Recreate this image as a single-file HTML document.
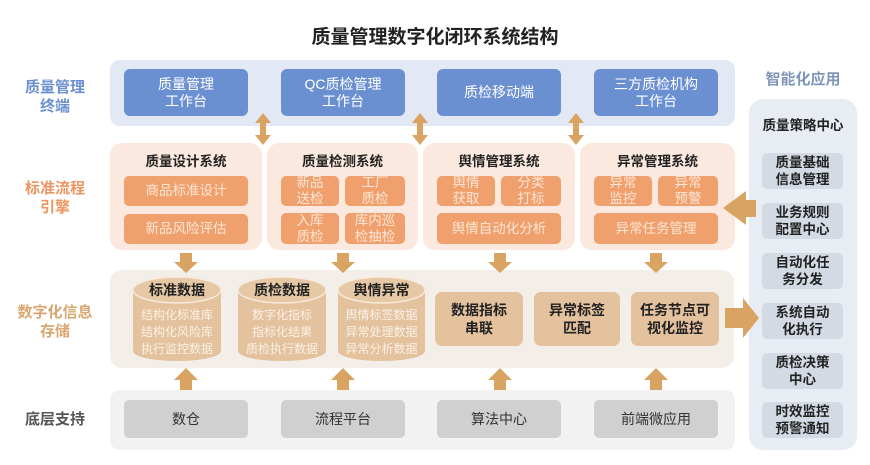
<!DOCTYPE html>
<html><head><meta charset="utf-8"><style>
*{margin:0;padding:0;box-sizing:border-box}
body{width:870px;height:465px;background:#fff;position:relative;overflow:hidden;font-family:"Liberation Sans","Noto Sans CJK SC",sans-serif}
.a{position:absolute}
.c{display:flex;align-items:center;justify-content:center;text-align:center}
.blue{background:#6b90d2;color:#fff;border-radius:6px;font-size:14px;line-height:17px}
.or{background:#f0a06c;color:#fde6d6;border-radius:5px;font-size:13.5px;line-height:16px}
.tan{background:#e3c29d;color:#222;border-radius:7px;font-size:14px;font-weight:bold;line-height:18px}
.gr{background:#d0d0d0;color:#333;border-radius:5px;font-size:14px}
.rb{background:#d4dae4;color:#222;border-radius:5px;font-size:13.5px;font-weight:bold;line-height:17px}
.lab{font-size:15px;font-weight:bold;line-height:19px}
.pt{font-size:13.5px;font-weight:bold;color:#222}
</style></head><body>
<div class="a" style="left:0;top:22px;width:870px;text-align:center;font-size:19px;font-weight:bold;color:#222">质量管理数字化闭环系统结构</div>

<div class="a c lab" style="left:5px;top:77px;width:100px;height:40px;color:#6b8fd0">质量管理<br>终端</div>
<div class="a c lab" style="left:5px;top:178px;width:100px;height:40px;color:#ec9560">标准流程<br>引擎</div>
<div class="a c lab" style="left:5px;top:302px;width:100px;height:40px;color:#d9a670">数字化信息<br>存储</div>
<div class="a c lab" style="left:5px;top:408px;width:100px;height:22px;color:#555">底层支持</div>

<div class="a" style="left:110px;top:60px;width:625px;height:66px;background:#e3e9f4;border-radius:10px"></div>
<div class="a c blue" style="left:124px;top:69px;width:124px;height:47px">质量管理<br>工作台</div>
<div class="a c blue" style="left:281px;top:69px;width:124px;height:47px">QC质检管理<br>工作台</div>
<div class="a c blue" style="left:437px;top:69px;width:124px;height:47px">质检移动端</div>
<div class="a c blue" style="left:594px;top:69px;width:124px;height:47px">三方质检机构<br>工作台</div>

<div class="a" style="left:110px;top:143px;width:152px;height:107px;background:#fbe9df;border-radius:12px"></div>
<div class="a" style="left:267px;top:143px;width:151px;height:107px;background:#fbe9df;border-radius:12px"></div>
<div class="a" style="left:423px;top:143px;width:152px;height:107px;background:#fbe9df;border-radius:12px"></div>
<div class="a" style="left:580px;top:143px;width:155px;height:107px;background:#fbe9df;border-radius:12px"></div>
<div class="a c pt" style="left:110px;top:151px;width:152px;height:18px">质量设计系统</div>
<div class="a c pt" style="left:267px;top:151px;width:151px;height:18px">质量检测系统</div>
<div class="a c pt" style="left:423px;top:151px;width:152px;height:18px">舆情管理系统</div>
<div class="a c pt" style="left:580px;top:151px;width:155px;height:18px">异常管理系统</div>
<div class="a c or" style="left:124px;top:176px;width:124px;height:30px">商品标准设计</div>
<div class="a c or" style="left:124px;top:214px;width:124px;height:30px">新品风险评估</div>
<div class="a c or" style="left:281px;top:176px;width:58px;height:30px">新品<br>送检</div>
<div class="a c or" style="left:345px;top:176px;width:60px;height:30px">工厂<br>质检</div>
<div class="a c or" style="left:281px;top:213px;width:58px;height:31px">入库<br>质检</div>
<div class="a c or" style="left:345px;top:213px;width:60px;height:31px">库内巡<br>检抽检</div>
<div class="a c or" style="left:437px;top:176px;width:58px;height:30px">舆情<br>获取</div>
<div class="a c or" style="left:501px;top:176px;width:60px;height:30px">分类<br>打标</div>
<div class="a c or" style="left:437px;top:213px;width:124px;height:31px">舆情自动化分析</div>
<div class="a c or" style="left:594px;top:176px;width:58px;height:30px">异常<br>监控</div>
<div class="a c or" style="left:658px;top:176px;width:60px;height:30px">异常<br>预警</div>
<div class="a c or" style="left:594px;top:213px;width:124px;height:31px">异常任务管理</div>

<div class="a" style="left:110px;top:270px;width:624px;height:98px;background:#f3eee8;border-radius:12px"></div>
<svg class="a" style="left:0;top:0" width="870" height="465">
<g fill="#e3c29d">
<rect x="133" y="287" width="88" height="64"/><ellipse cx="177" cy="351" rx="44" ry="10"/>
<rect x="238" y="287" width="88" height="64"/><ellipse cx="282" cy="351" rx="44" ry="10"/>
<rect x="338" y="287" width="87" height="64"/><ellipse cx="381.5" cy="351" rx="43.5" ry="10"/>
</g>
<g fill="#e6c8a5" stroke="#f7eadc" stroke-width="1.5">
<ellipse cx="177" cy="290" rx="44" ry="13"/>
<ellipse cx="282" cy="290" rx="44" ry="13"/>
<ellipse cx="381.5" cy="290" rx="43.5" ry="13"/>
</g>
<g fill="#d9a462">
<g transform="translate(263,0)"><polygon points="0,113 -8,123 -3,123 -3,135 -8,135 0,145 8,135 3,135 3,123 8,123"/></g>
<g transform="translate(420,0)"><polygon points="0,113 -8,123 -3,123 -3,135 -8,135 0,145 8,135 3,135 3,123 8,123"/></g>
<g transform="translate(576,0)"><polygon points="0,113 -8,123 -3,123 -3,135 -8,135 0,145 8,135 3,135 3,123 8,123"/></g>
<g transform="translate(186,0)"><polygon points="-6,253 6,253 6,262 12,262 0,273 -12,262 -6,262"/></g>
<g transform="translate(343,0)"><polygon points="-6,253 6,253 6,262 12,262 0,273 -12,262 -6,262"/></g>
<g transform="translate(500,0)"><polygon points="-6,253 6,253 6,262 12,262 0,273 -12,262 -6,262"/></g>
<g transform="translate(656,0)"><polygon points="-6,253 6,253 6,262 12,262 0,273 -12,262 -6,262"/></g>
<g transform="translate(186,0)"><polygon points="0,368 12,380 6,380 6,391 -6,391 -6,380 -12,380"/></g>
<g transform="translate(343,0)"><polygon points="0,368 12,380 6,380 6,391 -6,391 -6,380 -12,380"/></g>
<g transform="translate(500,0)"><polygon points="0,368 12,380 6,380 6,391 -6,391 -6,380 -12,380"/></g>
<g transform="translate(656,0)"><polygon points="0,368 12,380 6,380 6,391 -6,391 -6,380 -12,380"/></g>
</g>
</svg>
<div class="a c pt" style="left:133px;top:281px;width:88px;height:18px;font-size:14px">标准数据</div>
<div class="a c pt" style="left:238px;top:281px;width:88px;height:18px;font-size:14px">质检数据</div>
<div class="a c pt" style="left:338px;top:281px;width:87px;height:18px;font-size:14px">舆情异常</div>
<div class="a c" style="left:133px;top:306px;width:88px;height:52px;font-size:12px;line-height:17px;color:#fbf1e6">结构化标准库<br>结构化风险库<br>执行监控数据</div>
<div class="a c" style="left:238px;top:306px;width:88px;height:52px;font-size:12px;line-height:17px;color:#fbf1e6">数字化指标<br>指标化结果<br>质检执行数据</div>
<div class="a c" style="left:338px;top:306px;width:87px;height:52px;font-size:12px;line-height:17px;color:#fbf1e6">舆情标签数据<br>异常处理数据<br>异常分析数据</div>
<div class="a c tan" style="left:435px;top:292px;width:88px;height:54px">数据指标<br>串联</div>
<div class="a c tan" style="left:534px;top:292px;width:86px;height:54px">异常标签<br>匹配</div>
<div class="a c tan" style="left:631px;top:292px;width:88px;height:54px">任务节点可<br>视化监控</div>

<div class="a" style="left:110px;top:390px;width:625px;height:60px;background:#f2f2f2;border-radius:10px"></div>
<div class="a c gr" style="left:124px;top:400px;width:124px;height:38px">数仓</div>
<div class="a c gr" style="left:281px;top:400px;width:124px;height:38px">流程平台</div>
<div class="a c gr" style="left:437px;top:400px;width:124px;height:38px">算法中心</div>
<div class="a c gr" style="left:594px;top:400px;width:124px;height:38px">前端微应用</div>

<div class="a c" style="left:749px;top:67px;width:108px;height:22px;font-size:15px;font-weight:bold;color:#7f96b8">智能化应用</div>
<div class="a" style="left:749px;top:99px;width:108px;height:351px;background:#e8ecf3;border-radius:14px"></div>
<div class="a c pt" style="left:749px;top:114px;width:108px;height:20px">质量策略中心</div>
<div class="a c rb" style="left:762px;top:153px;width:81px;height:36px">质量基础<br>信息管理</div>
<div class="a c rb" style="left:762px;top:203px;width:81px;height:36px">业务规则<br>配置中心</div>
<div class="a c rb" style="left:762px;top:253px;width:81px;height:36px">自动化任<br>务分发</div>
<div class="a c rb" style="left:762px;top:303px;width:81px;height:36px">系统自动<br>化执行</div>
<div class="a c rb" style="left:762px;top:353px;width:81px;height:36px">质检决策<br>中心</div>
<div class="a c rb" style="left:762px;top:402px;width:81px;height:36px">时效监控<br>预警通知</div>

<svg class="a" style="left:0;top:0" width="870" height="465">
<g fill="#d9a462">
<polygon points="723,208 746,191 746,200 756,200 756,217 746,217 746,225"/>
<polygon points="725,308 743,308 743,298 759,318 743,338 743,328 725,328"/>
</g>
</svg>
</body></html>
